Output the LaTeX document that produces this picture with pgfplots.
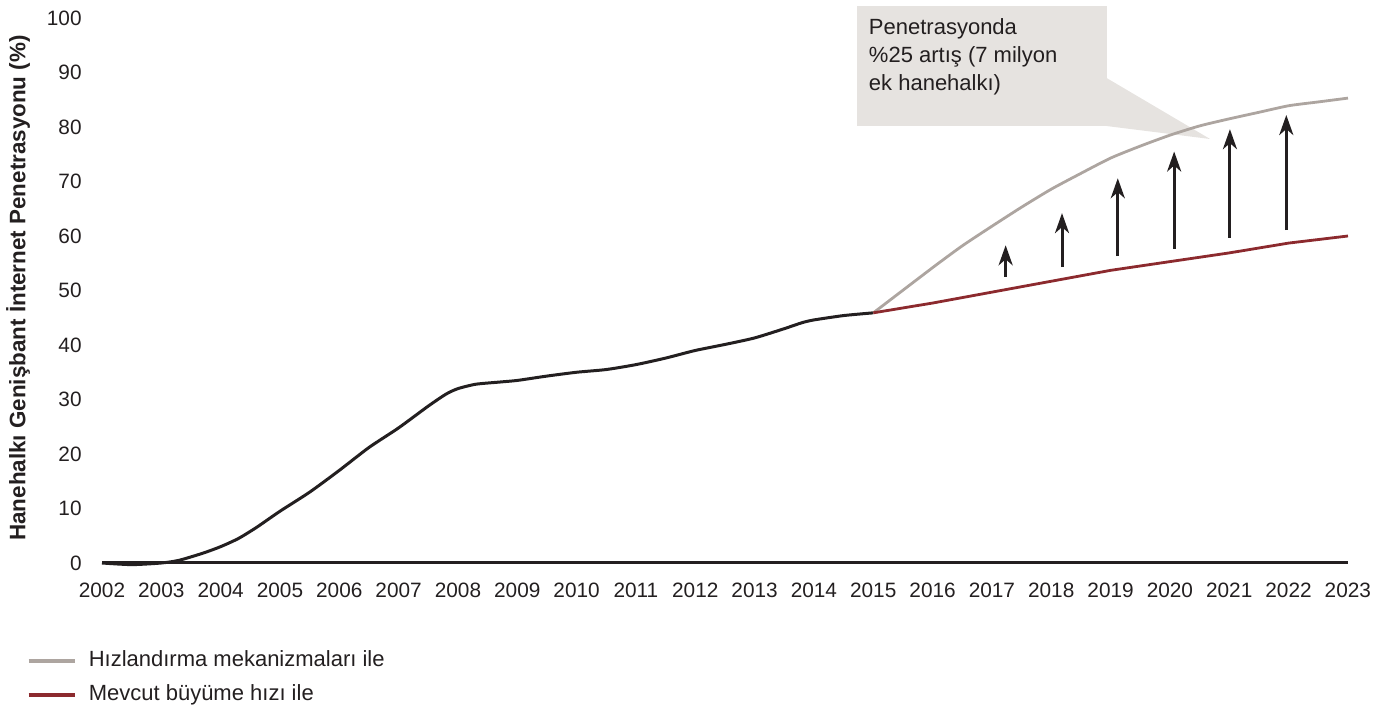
\documentclass[border=0pt]{standalone}
\usepackage{fontspec}
\setmainfont{Liberation Sans}
\usepackage{pgfplots}
\pgfplotsset{compat=1.18}
\usetikzlibrary{arrows.meta}
\definecolor{accgrey}{HTML}{ADA5A0}
\definecolor{curred}{HTML}{8C2A2E}
\definecolor{boxgrey}{HTML}{E6E3E0}
\definecolor{ink}{HTML}{231F20}

\begin{document}
\begin{tikzpicture}
\useasboundingbox (0,0) rectangle (694bp,354.5bp);
\begin{axis}[
  at={(51bp,73bp)}, anchor=south west,
  width=623bp, height=272.5bp, scale only axis,
  xmin=2002, xmax=2023, ymin=0, ymax=100,
  clip=false,
  axis x line*=bottom, axis y line*=left,
  x axis line style={-, line width=1.5bp, ink},
  y axis line style={draw=none},
  xtick={2002,...,2023}, ytick={0,10,...,100},
  major tick length=0pt,
  tick label style={font=\fontsize{10.4bp}{12bp}\selectfont, text=ink, /pgf/number format/assume math mode=true},
  xticklabel style={/pgf/number format/1000 sep={}, anchor=north, inner sep=0pt, yshift=-10bp},
  yticklabel style={anchor=east, inner sep=0pt, xshift=-10bp},
  ylabel={Hanehalkı Genişbant İnternet Penetrasyonu (\%)},
  ylabel style={at={(axis description cs:-0.0674,0.5046)}, anchor=center, font=\bfseries\fontsize{11.2bp}{13bp}\selectfont, text=ink},
  legend style={at={(axis description cs:-0.0602,-0.1606)}, anchor=north west, draw=none, fill=none,
    inner sep=0pt, outer sep=0pt, row sep=6.5bp, column sep=6.2bp,
    font=\fontsize{11bp}{13bp}\selectfont, text=ink,
    nodes={inner sep=0pt, text height=8bp, text depth=2.5bp}},
  legend cell align=left,
  legend image code/.code={\draw[#1, line width=1.7bp] (0bp,0bp) -- (23bp,0bp);},
]
% callout
\fill[boxgrey] (axis cs:2014.725,102.2) rectangle (axis cs:2018.939,80.18);
\fill[boxgrey] (axis cs:2018.93,89.0) -- (axis cs:2020.675,77.8) -- (axis cs:2018.93,80.18) -- cycle;
\node[anchor=north west, align=left, inner sep=0pt, font=\fontsize{11bp}{14bp}\selectfont, text=ink]
  at (axis cs:2014.92,100.0) {Penetrasyonda\\\%25 artış (7 milyon\\ek hanehalkı)};

% historical
\addplot[ink, line width=1.5bp, smooth, tension=0.4, forget plot] coordinates {
(2002,0) (2002.5,-0.3) (2003,0) (2003.3,0.5) (2003.7,1.8) (2004,3.0) (2004.3,4.5) (2004.6,6.5)
(2005,9.5) (2005.5,13) (2006,17) (2006.5,21.2) (2007,24.8) (2007.5,28.8) (2007.8,31) (2008,32)
(2008.3,32.8) (2008.7,33.2) (2009,33.5) (2009.5,34.3) (2010,35) (2010.5,35.5) (2011,36.4)
(2011.5,37.6) (2012,39) (2012.5,40.1) (2013,41.3) (2013.5,43) (2013.8,44.1) (2014,44.6)
(2014.5,45.4) (2015,45.9)};

% accelerated
\addplot[accgrey, line width=1.4bp, smooth, tension=0.4] coordinates {
(2015,45.9) (2016,54.2) (2016.5,58.2) (2017,61.8) (2017.5,65.3) (2018,68.6) (2018.5,71.5)
(2019,74.3) (2019.5,76.5) (2020,78.5) (2020.5,80.2) (2021,81.5) (2021.5,82.7) (2022,83.9)
(2022.5,84.6) (2023,85.3)};
\addlegendentry{Hızlandırma mekanizmaları ile}

% current growth
\addplot[curred, line width=1.4bp] coordinates {
(2015,45.9) (2016,47.7) (2017,49.7) (2018,51.7) (2019,53.7) (2020,55.3) (2021,56.9)
(2022,58.7) (2023,60)};
\addlegendentry{Mevcut büyüme hızı ile}

% arrows
\draw[ink, line width=1.5bp, -{Stealth[length=10bp,width=7bp,inset=3bp]}] (axis cs:2017.23,52.5) -- (axis cs:2017.23,58.3);
\draw[ink, line width=1.5bp, -{Stealth[length=10bp,width=7bp,inset=3bp]}] (axis cs:2018.18,54.3) -- (axis cs:2018.18,64.2);
\draw[ink, line width=1.5bp, -{Stealth[length=10bp,width=7bp,inset=3bp]}] (axis cs:2019.12,56.3) -- (axis cs:2019.12,70.6);
\draw[ink, line width=1.5bp, -{Stealth[length=10bp,width=7bp,inset=3bp]}] (axis cs:2020.07,57.7) -- (axis cs:2020.07,75.5);
\draw[ink, line width=1.5bp, -{Stealth[length=10bp,width=7bp,inset=3bp]}] (axis cs:2021.01,59.7) -- (axis cs:2021.01,79.6);
\draw[ink, line width=1.5bp, -{Stealth[length=10bp,width=7bp,inset=3bp]}] (axis cs:2021.96,61.1) -- (axis cs:2021.96,82.2);
\end{axis}
\end{tikzpicture}
\end{document}
